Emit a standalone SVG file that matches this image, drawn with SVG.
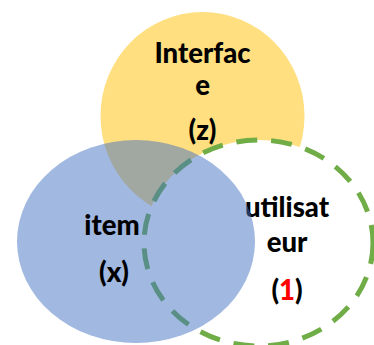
<svg xmlns="http://www.w3.org/2000/svg" width="374" height="345" viewBox="0 0 374 345">
<style>
.lbl{font-family:Lato,"Open Sans","Liberation Sans",sans-serif;font-weight:900;font-size:27.5px;fill:#000;text-anchor:middle}
.red{fill:#FF0000}
</style>
<rect width="374" height="345" fill="#FFFFFF"/>
<g id="interface">
<ellipse cx="202.5" cy="116" rx="102" ry="104" fill="#FFC000" fill-opacity="0.5"/>
</g>
<g id="utilisateur">
<ellipse cx="258.5" cy="243" rx="114.5" ry="103" fill="#FFFFFF" stroke="#70AD47" stroke-width="5" stroke-dasharray="21 14"/>
<text class="lbl" x="287" y="217">utilisat</text>
<text class="lbl" x="287" y="252">eur</text>
<text class="lbl" x="287" y="300">(<tspan class="red">1</tspan>)</text>
</g>
<g id="item">
<ellipse cx="136" cy="241.5" rx="119" ry="101.5" fill="#4472C4" fill-opacity="0.5"/>
<text class="lbl" x="112" y="235">item</text>
<text class="lbl" x="114" y="282">(x)</text>
</g>
<g id="interface-label">
<text class="lbl" x="202.5" y="63">Interfac</text>
<text class="lbl" x="202.5" y="95">e</text>
<text class="lbl" x="202.5" y="140">(z)</text>
</g>
<g id="connectors"></g>
</svg>
